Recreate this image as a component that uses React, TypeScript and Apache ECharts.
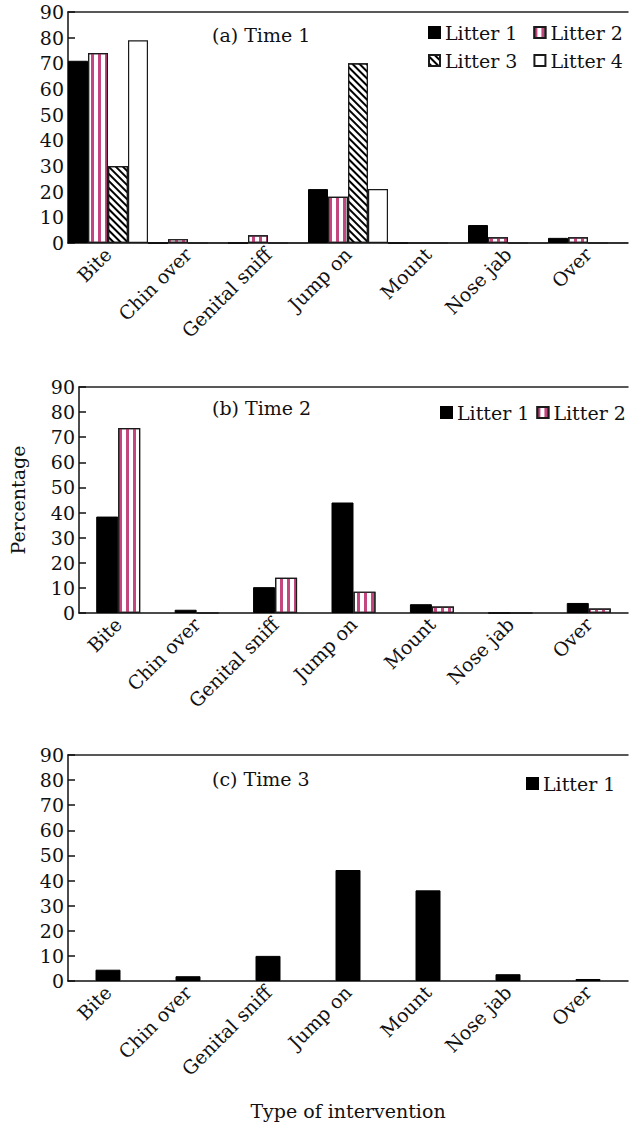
import React, { useEffect, useRef } from "react";
import * as echarts from "echarts";

const categories = ["Bite", "Chin over", "Genital sniff", "Jump on", "Mount", "Nose jab", "Over"];
const seriesNames = ["Litter 1", "Litter 2", "Litter 3", "Litter 4"];

// (a) Time 1
const t1Litter1 = [71, 0, 0, 21, 0, 7, 2];
const t1Litter2 = [74, 1.5, 3, 18, 0, 2.2, 2.2];
const t1Litter3 = [30, 0, 0, 70, 0, 0, 0];
const t1Litter4 = [79, 0, 0, 21, 0, 0, 0];
// (b) Time 2
const t2Litter1 = [38.4, 1.3, 10.3, 44, 3.5, 0, 4];
const t2Litter2 = [73.7, 0, 14, 8.5, 2.6, 0, 1.8];
// (c) Time 3
const t3Litter1 = [4.5, 1.9, 10, 44.2, 36.1, 2.7, 0.8];

const panelTitles = ["(a) Time 1", "(b) Time 2", "(c) Time 3"];
const yTicks = { min: 0, max: 90, interval: 10 };

const FONT = "DejaVu Serif";
const FS = 19;
const PINK = "#C4467E";
const BORDER = "#1a1a1a";

const styles: any = {
  "Litter 1": { color: "#000", borderColor: "#000", borderWidth: 1 },
  "Litter 2": {
    color: "#fff",
    borderColor: BORDER,
    borderWidth: 1.2,
    decal: { symbol: "rect", symbolSize: 1, color: PINK, dashArrayX: [3, 4], dashArrayY: [10, 0], rotation: 0 },
  },
  "Litter 3": {
    color: "#fff",
    borderColor: BORDER,
    borderWidth: 1.2,
    decal: { symbol: "rect", symbolSize: 1, color: "#000", dashArrayX: [10, 0], dashArrayY: [2, 3], rotation: Math.PI / 4 },
  },
  "Litter 4": { color: "#fff", borderColor: BORDER, borderWidth: 1.2 },
};

const grids = [
  { left: 68, top: 12, width: 560, height: 231 },
  { left: 68, top: 387, width: 560, height: 226 },
  { left: 68, top: 755, width: 560, height: 226 },
];

export default function App() {
  const ref = useRef<HTMLDivElement>(null);
  useEffect(() => {
    if (!ref.current) return;
    const chart = echarts.init(ref.current, undefined, { renderer: "svg" });
    const textStyle = { fontFamily: FONT, fontSize: FS, color: "#111" };

    const xAxes: any[] = [];
    const yAxes: any[] = [];
    grids.forEach((_, i) => {
      xAxes.push({
        type: "category",
        gridIndex: i,
        data: categories,
        position: "bottom",
        axisLine: { lineStyle: { color: "#111", width: 1.5 } },
        axisTick: { inside: true, length: 6, lineStyle: { color: "#111", width: 1.5 } },
        axisLabel: { rotate: 45, margin: 8, interval: 0, ...textStyle },
        name: i === 2 ? "Type of intervention" : "",
        nameLocation: "middle",
        nameGap: 120,
        nameTextStyle: { ...textStyle },
      });
      xAxes.push({
        type: "category",
        gridIndex: i,
        data: categories,
        position: "top",
        axisLine: { lineStyle: { color: "#222", width: 1.5 } },
        axisTick: { show: false },
        axisLabel: { show: false },
      });
      yAxes.push({
        type: "value",
        gridIndex: i,
        min: yTicks.min,
        max: yTicks.max,
        interval: yTicks.interval,
        splitLine: { show: false },
        axisLine: { show: true, lineStyle: { color: "#111", width: 1.5 } },
        axisTick: { show: true, inside: true, length: 7, lineStyle: { color: "#111", width: 1.5 } },
        axisLabel: { margin: 4, ...textStyle },
        name: i === 1 ? "Percentage" : "",
        nameLocation: "middle",
        nameGap: 52,
        nameRotate: 90,
        nameTextStyle: { ...textStyle },
      });
    });

    const mk = (name: string, data: number[], panel: number, extra: any = {}) => ({
      type: "bar",
      name,
      data,
      xAxisIndex: panel * 2,
      yAxisIndex: panel,
      itemStyle: styles[name],
      barGap: "0%",
      ...extra,
    });

    const series = [
      mk("Litter 1", t1Litter1, 0, { barCategoryGap: "0%" }),
      mk("Litter 2", t1Litter2, 0, { barCategoryGap: "0%" }),
      mk("Litter 3", t1Litter3, 0, { barCategoryGap: "0%" }),
      mk("Litter 4", t1Litter4, 0, { barCategoryGap: "0%" }),
      mk("Litter 1", t2Litter1, 1, { barWidth: 22 }),
      mk("Litter 2", t2Litter2, 1, { barWidth: 22 }),
      mk("Litter 1", t3Litter1, 2, { barWidth: 25 }),
    ];

    const legendBase = {
      orient: "horizontal",
      icon: "rect",
      itemWidth: 11,
      itemHeight: 11,
      padding: 0,
      selectedMode: false,
      textStyle: { ...textStyle, padding: [0, 0, 0, 0] },
    };

    const option: any = {
      animation: false,
      backgroundColor: "#fff",
      grid: grids,
      xAxis: xAxes,
      yAxis: yAxes,
      legend: [
        { ...legendBase, left: 428, top: 23, itemGap: 16, data: [seriesNames[0], seriesNames[1]] },
        { ...legendBase, left: 428, top: 51, itemGap: 16, data: [seriesNames[2], seriesNames[3]] },
        { ...legendBase, left: 440, top: 403, itemGap: 7, data: [seriesNames[0], seriesNames[1]] },
        { ...legendBase, left: 526, top: 774, itemGap: 7, data: [seriesNames[0]] },
      ],
      graphic: panelTitles.map((t, i) => ({
        type: "text",
        left: 212,
        top: [25, 398, 769][i],
        style: { text: t, font: `${FS}px "${FONT}"`, fill: "#111" },
      })),
      series,
    };
    chart.setOption(option);
    return () => chart.dispose();
  }, []);
  return (
    <div style={{ position: "absolute", left: 0, top: 0, width: 630, height: 1123, background: "#fff" }}>
      <div ref={ref} style={{ width: 630, height: 1123 }} />
    </div>
  );
}
